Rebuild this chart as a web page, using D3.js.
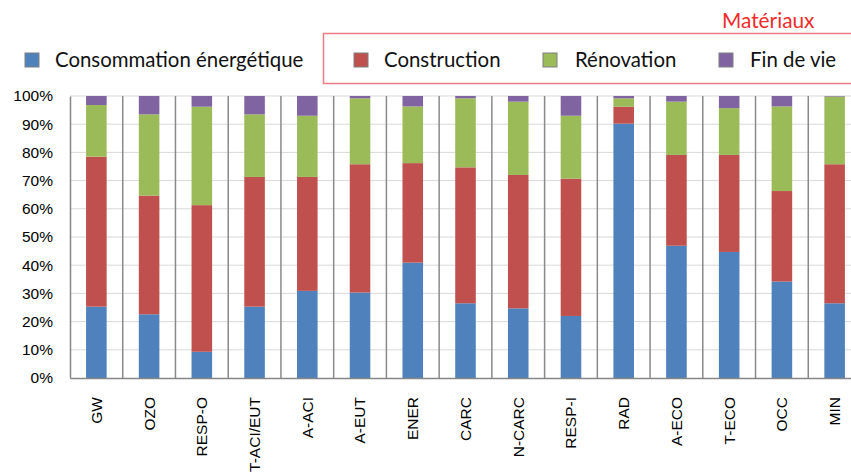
<!DOCTYPE html>
<html>
<head>
<meta charset="utf-8">
<script src="https://cdn.jsdelivr.net/npm/d3@7"></script>
<style>
  html, body { margin: 0; padding: 0; background: #fff; }
  svg { display: block; }
</style>
</head>
<body>
<svg id="chart" width="851" height="472"></svg>
<script>
// Impact categories along the x axis
const categories = ["GW", "OZO", "RESP-O", "T-ACI/EUT", "A-ACI", "A-EUT", "ENER", "CARC",
                    "N-CARC", "RESP-I", "RAD", "A-ECO", "T-ECO", "OCC", "MIN"];

// Share of each life-cycle stage, in %
const consommation = [25.3, 22.6, 9.3, 25.3, 30.9, 30.3, 40.9, 26.5, 24.7, 22.0, 90.2, 46.9, 44.7, 34.2, 26.5];
const construction = [53.2, 42.1, 52.0, 46.0, 40.4, 45.5, 35.3, 48.2, 47.3, 48.7, 6.0, 32.2, 34.4, 32.1, 49.3];
const renovation   = [18.3, 28.8, 34.9, 22.2, 21.7, 23.4, 20.1, 24.5, 26.0, 22.3, 3.0, 18.9, 16.6, 30.0, 24.0];
const finDeVie     = [3.2, 6.5, 3.8, 6.5, 7.0, 0.8, 3.7, 0.8, 2.0, 7.0, 0.8, 2.0, 4.3, 3.7, 0.2];

const seriesNames = ["Consommation énergétique", "Construction", "Rénovation", "Fin de vie"];
const seriesColors = ["#4f81bd", "#c0504d", "#9bbb59", "#8064a2"];
const yTicks = [0, 10, 20, 30, 40, 50, 60, 70, 80, 90, 100];

const rows = categories.map((c, i) => ({
  cat: c,
  "Consommation énergétique": consommation[i],
  "Construction": construction[i],
  "Rénovation": renovation[i],
  "Fin de vie": finDeVie[i]
}));

const svg = d3.select("#chart");
const plot = { left: 70, right: 861, top: 96, bottom: 378 };

const x = d3.scaleBand().domain(categories).range([plot.left, plot.right]).padding(0);
const y = d3.scaleLinear().domain([0, 100]).range([plot.bottom, plot.top]);
const color = d3.scaleOrdinal().domain(seriesNames).range(seriesColors);

// Horizontal gridlines
svg.append("g")
  .selectAll("line")
  .data(yTicks.slice(1))
  .join("line")
  .attr("x1", plot.left).attr("x2", plot.right)
  .attr("y1", d => y(d)).attr("y2", d => y(d))
  .attr("stroke", "#d9d9d9").attr("stroke-width", 1);

// Stacked bars
const stacked = d3.stack().keys(seriesNames)(rows);
const barW = x.bandwidth() * 0.39;
svg.append("g")
  .selectAll("g")
  .data(stacked)
  .join("g")
  .attr("fill", d => color(d.key))
  .selectAll("rect")
  .data(d => d)
  .join("rect")
  .attr("x", d => x(d.data.cat) + (x.bandwidth() - barW) / 2)
  .attr("width", barW)
  .attr("y", d => y(d[1]))
  .attr("height", d => y(d[0]) - y(d[1]));

// Vertical separators between categories
svg.append("g")
  .selectAll("line")
  .data(categories.slice(1))
  .join("line")
  .attr("x1", d => x(d)).attr("x2", d => x(d))
  .attr("y1", plot.top).attr("y2", plot.bottom)
  .attr("stroke", "#8a8a8a").attr("stroke-width", 1.5);

// Y axis
const yAxis = d3.axisLeft(y).tickValues(yTicks).tickFormat(d => d + "%").tickSize(0).tickPadding(17);
const gy = svg.append("g").attr("transform", `translate(${plot.left},0)`).call(yAxis);
gy.select(".domain").attr("stroke", "#868686").attr("stroke-width", 1.5);
gy.selectAll("text")
  .attr("font-family", "'Liberation Sans', Arial, sans-serif")
  .attr("font-size", 15.5)
  .attr("fill", "#000");

// X axis
const xAxis = d3.axisBottom(x).tickSize(0).tickPadding(0);
const gx = svg.append("g").attr("transform", `translate(0,${plot.bottom})`).call(xAxis);
gx.select(".domain").attr("stroke", "#868686").attr("stroke-width", 1.5);
gx.selectAll("text")
  .attr("font-family", "'Liberation Sans', Arial, sans-serif")
  .attr("font-size", 15.5)
  .attr("fill", "#000")
  .attr("text-anchor", "end")
  .attr("dy", "0.35em")
  .attr("transform", "translate(0,19) rotate(-90)")
  .attr("x", 0).attr("y", 0);

// Legend
const legendFont = "Lato, 'Open Sans', sans-serif";
const legendItems = [
  { name: seriesNames[0], sx: 25, tx: 55 },
  { name: seriesNames[1], sx: 354, tx: 384 },
  { name: seriesNames[2], sx: 543, tx: 575 },
  { name: seriesNames[3], sx: 719, tx: 750 }
];
const lg = svg.append("g");
lg.selectAll("rect")
  .data(legendItems)
  .join("rect")
  .attr("x", d => d.sx).attr("y", 53)
  .attr("width", 14).attr("height", 14)
  .attr("fill", d => color(d.name))
  .attr("stroke", "#7f7f7f").attr("stroke-width", 1);
lg.selectAll("text")
  .data(legendItems)
  .join("text")
  .attr("x", d => d.tx).attr("y", 67)
  .attr("font-family", legendFont)
  .attr("font-size", 20.4)
  .attr("fill", "#111")
  .text(d => d.name);

// Materials group frame
svg.append("rect")
  .attr("x", 323.5).attr("y", 33.5)
  .attr("width", 540).attr("height", 50)
  .attr("fill", "none")
  .attr("stroke", "#ef7d80").attr("stroke-width", 1.5);
svg.append("text")
  .attr("x", 722).attr("y", 28)
  .attr("font-family", legendFont)
  .attr("font-size", 20.8)
  .attr("fill", "#f02b2b")
  .text("Matériaux");
</script>
</body>
</html>
